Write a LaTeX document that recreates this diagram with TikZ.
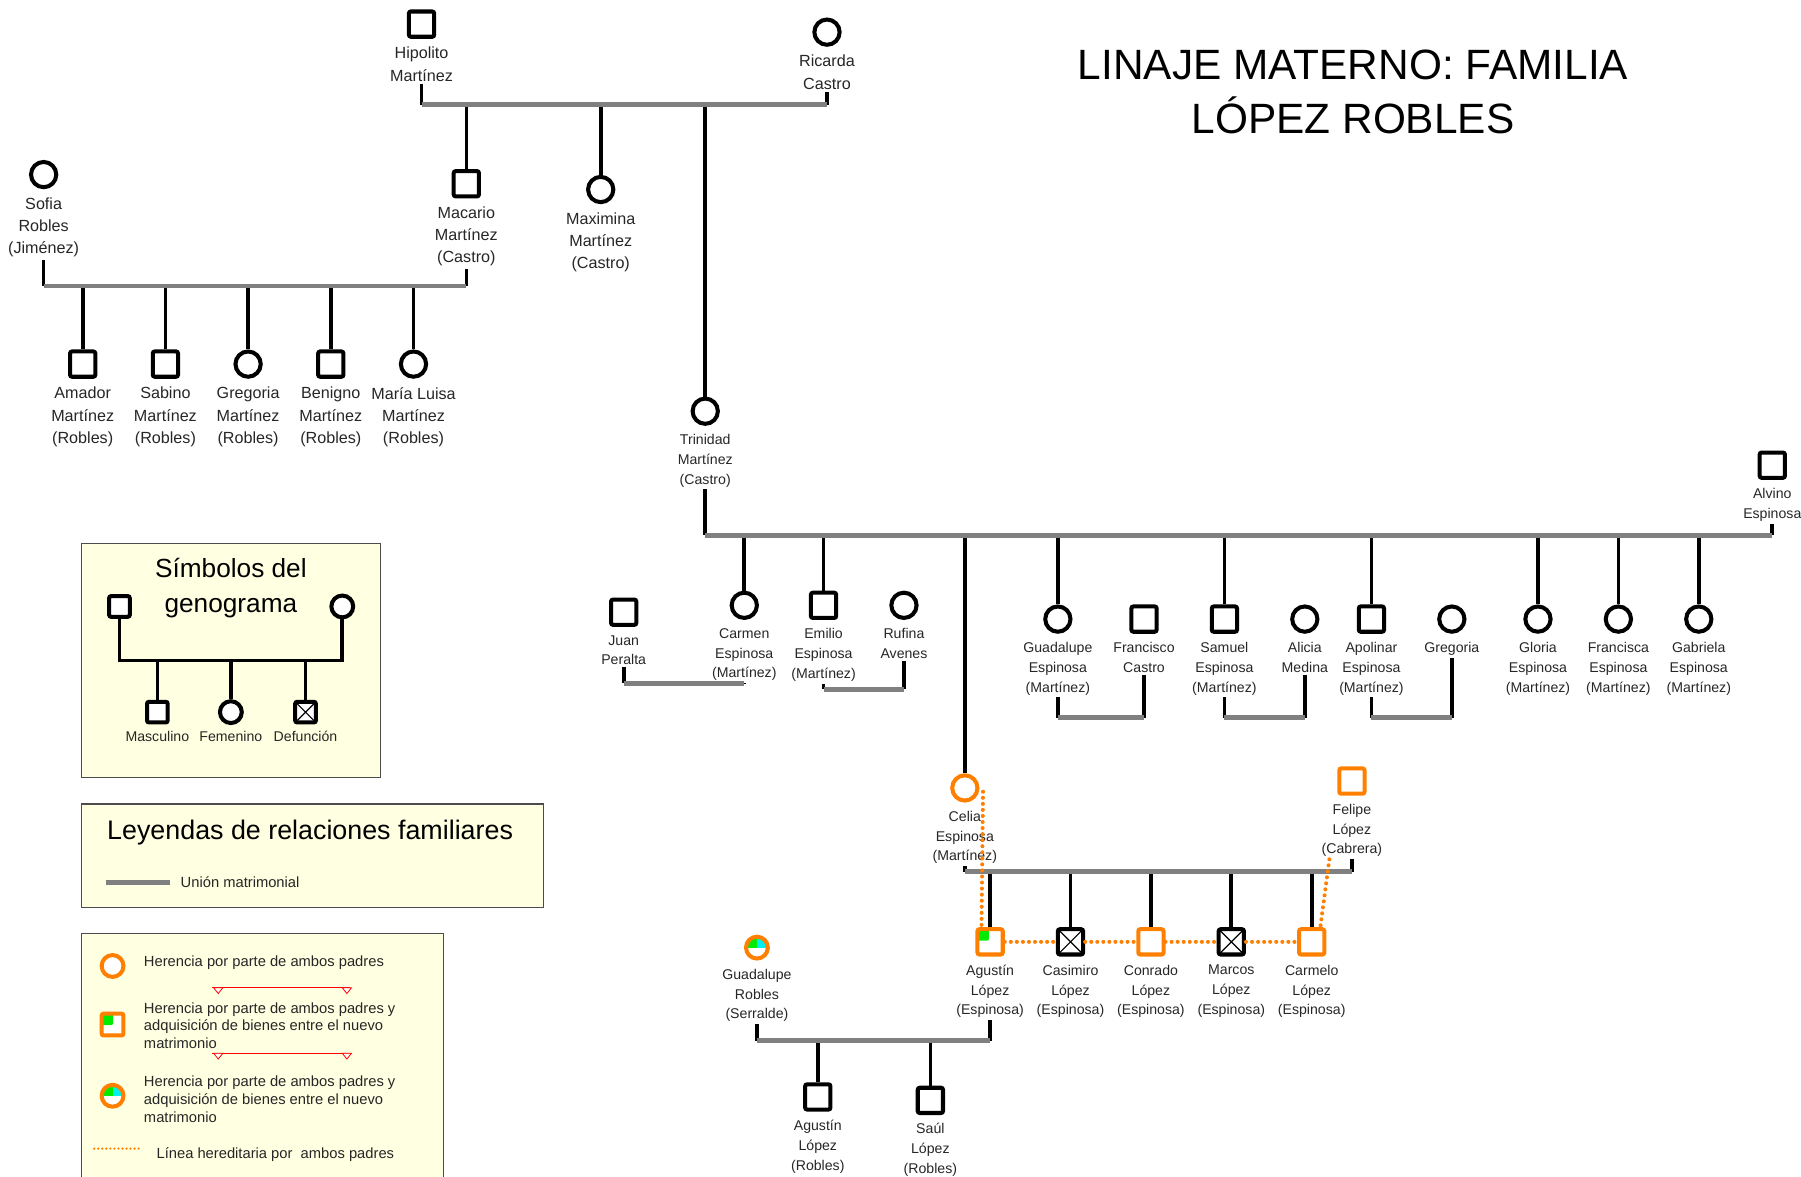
\documentclass[tikz,border=0pt]{standalone}
\usepackage{fontspec}
\setmainfont{Liberation Sans}
\usetikzlibrary{positioning}
\definecolor{herencia}{RGB}{255,128,0}
\definecolor{bienes}{RGB}{0,235,0}
\definecolor{bienesb}{RGB}{0,240,240}
\definecolor{papel}{RGB}{255,255,225}
\definecolor{uniongris}{RGB}{128,128,128}
\tikzset{
	male/.style={draw, line width=2pt, rounded corners=1pt, minimum size=0.44cm, inner sep=0pt, fill=white},
	female/.style={draw, circle, line width=2pt, minimum size=0.44cm, inner sep=0pt, fill=white},
	dead/.style={male, path picture={\draw[line width=0.6pt] (path picture bounding box.north west) -- (path picture bounding box.south east) (path picture bounding box.north east) -- (path picture bounding box.south west);}},
	hered/.style={draw=herencia},
	bienesq/.style={path picture={\fill[bienes] (path picture bounding box.north west) rectangle ++(0.2cm,-0.2cm);}},
	bienesc/.style={path picture={\fill[bienes] (path picture bounding box.center) rectangle (path picture bounding box.north west); \fill[bienesb] (path picture bounding box.center) rectangle (path picture bounding box.north east);}},
	lbl/.style={align=center, font=\fontsize{8}{11}\selectfont, inner sep=1pt, text=black!85},
	lbls/.style={lbl, font=\fontsize{7}{9.8}\selectfont},
	desc/.style={line width=1.8pt},
	union/.style={draw=uniongris, line width=2.4pt},
	linea/.style={draw=herencia, line width=2pt, line cap=round, dash pattern=on 0pt off 3pt},
	caja/.style={draw=black!70, fill=papel, line width=0.6pt},
	leyenda/.style={font=\fontsize{7.3}{8.8}\selectfont, align=left, anchor=west, inner sep=0pt, text=black!85}
}
\begin{document}
\begin{tikzpicture}[x=0.02cm, y=-0.02cm]
	\useasboundingbox (0,0) rectangle (1568,1024);
	\node[font=\fontsize{21}{27}\selectfont, align=center] (titulo) at (1178,80) {LINAJE MATERNO: FAMILIA\\LÓPEZ ROBLES};

	\coordinate (u1) at (0,91);
	\node[male] (hip) at (367,21) {};
	\node[lbl, below=3pt of hip] (hip-t) {Hipolito\\Martínez};
	\node[female] (ric) at (720,28) {};
	\node[lbl, below=3pt of ric] (ric-t) {Ricarda\\Castro};
	\node[male] (mac) at (406,160) {};
	\node[lbl, below=3pt of mac] (mac-t) {Macario\\Martínez\\(Castro)};
	\node[female] (maxi) at (523,165) {};
	\node[lbl, below=3pt of maxi] (maxi-t) {Maximina\\Martínez\\(Castro)};
	\node[female] (tri) at (614,358) {};
	\node[lbls, below=3pt of tri] (tri-t) {Trinidad\\Martínez\\(Castro)};
	\draw[desc] (hip-t) -- (hip-t |- u1);
	\draw[desc] (ric-t) -- (ric-t |- u1);
	\foreach \n in {mac,maxi,tri} \draw[desc] (\n |- u1) -- (\n);
	\draw[union] (hip-t |- u1) -- (ric-t |- u1);

	\coordinate (u2) at (0,249);
	\node[female] (sof) at (38,152) {};
	\node[lbl, below=3pt of sof] (sof-t) {Sofia\\Robles\\(Jiménez)};
	\draw[desc] (sof-t) -- (sof-t |- u2);
	\draw[desc] (mac-t) -- (mac-t |- u2);
	\foreach \x/\s/\n/\nom in {72/male/ama/Amador, 144/male/sab/Sabino, 216/female/gre/Gregoria, 288/male/ben/Benigno, 360/female/mlu/María Luisa}{
		\node[\s] (\n) at (\x,317) {};
		\node[lbl, below=3pt of \n] (\n-t) {\nom\\Martínez\\(Robles)};
		\draw[desc] (\n |- u2) -- (\n);
	}
	\draw[union] (sof-t |- u2) -- (mac-t |- u2);

	\coordinate (u3) at (0,466);
	\node[male] (alv) at (1543,405) {};
	\node[lbls, below=3pt of alv] (alv-t) {Alvino\\Espinosa};
	\draw[desc] (tri-t) -- (tri-t |- u3);
	\draw[desc] (alv-t) -- (alv-t |- u3);
	\node[female] (car) at (648,527) {};
	\node[lbls, below=3pt of car] (car-t) {Carmen\\Espinosa\\(Martínez)};
	\node[male] (emi) at (717,527) {};
	\node[lbls, below=3pt of emi] (emi-t) {Emilio\\Espinosa\\(Martínez)};
	\node[female, hered] (cel) at (840,686) {};
	\node[lbls, below=3pt of cel] (cel-t) {Celia\\Espinosa\\(Martínez)};
	\foreach \x/\s/\n/\nom in {921/female/gua/Guadalupe, 1066/male/sam/Samuel, 1194/male/apo/Apolinar, 1339/female/glo/Gloria, 1409/female/fra/Francisca, 1479/female/gab/Gabriela}{
		\node[\s] (\n) at (\x,539) {};
		\node[lbls, below=3pt of \n] (\n-t) {\nom\\Espinosa\\(Martínez)};
	}
	\foreach \n in {car,emi,cel,gua,sam,apo,glo,fra,gab} \draw[desc] (\n |- u3) -- (\n);
	\draw[union] (tri-t |- u3) -- (alv-t |- u3);

	\node[male] (jua) at (543,533) {};
	\node[lbls, below=3pt of jua] (jua-t) {Juan\\Peralta};
	\node[female] (ruf) at (787,527) {};
	\node[lbls, below=3pt of ruf] (ruf-t) {Rufina\\Avenes};
	\node[male] (fco) at (996,539) {};
	\node[lbls, below=3pt of fco] (fco-t) {Francisco\\Castro};
	\node[female] (ali) at (1136,539) {};
	\node[lbls, below=3pt of ali] (ali-t) {Alicia\\Medina};
	\node[female] (gre2) at (1264,539) {};
	\node[lbls, below=3pt of gre2] (gre2-t) {Gregoria};
	\foreach \a/\b/\y in {jua/car/595, emi/ruf/600, gua/fco/625, sam/ali/625, apo/gre2/625}{
		\coordinate (m) at (0,\y);
		\draw[desc] (\a-t) -- (\a-t |- m);
		\draw[desc] (\b-t) -- (\b-t |- m);
		\draw[union] (\a-t |- m) -- (\b-t |- m);
	}

	\coordinate (u4) at (0,759);
	\node[male, hered] (fel) at (1177,680) {};
	\node[lbls, below=3pt of fel] (fel-t) {Felipe\\López\\(Cabrera)};
	\draw[desc] (cel-t) -- (cel-t |- u4);
	\draw[desc] (fel-t) -- (fel-t |- u4);
	\node[male, hered, bienesq] (agu) at (862,820) {};
	\node[dead] (cas) at (932,820) {};
	\node[male, hered] (con) at (1002,820) {};
	\node[dead] (mar) at (1072,820) {};
	\node[male, hered] (cml) at (1142,820) {};
	\foreach \n/\nom in {agu/Agustín, cas/Casimiro, con/Conrado, mar/Marcos, cml/Carmelo}{
		\node[lbls, below=3pt of \n] (\n-t) {\nom\\López\\(Espinosa)};
		\draw[desc] (\n |- u4) -- (\n);
	}
	\draw[union] (cel-t |- u4) -- (fel-t |- u4);
	\draw[linea] (agu) -- (cas) (cas) -- (con) (con) -- (mar) (mar) -- (cml);
	\draw[linea] ([xshift=2pt]cel.-15) -- ([xshift=3pt]agu.north west);
	\draw[linea] ([xshift=5pt]fel-t.south west) -- ([xshift=-3pt]cml.north east);

	\coordinate (u5) at (0,906);
	\node[female, hered, bienesc, minimum size=0.38cm] (gur) at (659,825) {};
	\node[lbls, below=3pt of gur] (gur-t) {Guadalupe\\Robles\\(Serralde)};
	\draw[desc] (gur-t) -- (gur-t |- u5);
	\draw[desc] (agu-t) -- (agu-t |- u5);
	\node[male] (agr) at (712,955) {};
	\node[lbls, below=3pt of agr] (agr-t) {Agustín\\López\\(Robles)};
	\node[male] (sau) at (810,958) {};
	\node[lbls, below=3pt of sau] (sau-t) {Saúl\\López\\(Robles)};
	\foreach \n in {agr,sau} \draw[desc] (\n |- u5) -- (\n);
	\draw[union] (gur-t |- u5) -- (agu-t |- u5);

	\draw[caja] (71,473) rectangle (331,677);
	\node[font=\fontsize{13}{17}\selectfont, align=center] (simb) at (201,512) {Símbolos del\\genograma};
	\coordinate (lu) at (0,575);
	\node[male, minimum size=0.36cm] (lp) at (104,528) {};
	\node[female, minimum size=0.38cm] (lm) at (298,528) {};
	\draw[desc] (lp) -- (lp |- lu) -- (lm |- lu) -- (lm);
	\node[male, minimum size=0.36cm] (lh1) at (137,620) {};
	\node[female, minimum size=0.38cm] (lh2) at (201,620) {};
	\node[dead, minimum size=0.36cm] (lh3) at (266,620) {};
	\foreach \n/\nom in {lh1/Masculino, lh2/Femenino, lh3/Defunción}{
		\draw[desc] (\n |- lu) -- (\n);
		\node[lbls, below=2pt of \n] (\n-t) {\nom};
	}

	\draw[caja] (71,700) rectangle (473,790);
	\node[font=\fontsize{13.3}{16}\selectfont, anchor=west, inner sep=0pt] (ley) at (93,725) {Leyendas de relaciones familiares};
	\coordinate (lu1) at (92,768);
	\coordinate (lu2) at (148,768);
	\draw[union] (lu1) -- (lu2);
	\node[leyenda] (ley1) at (157,768) {Unión matrimonial};

	\draw[caja] (71,813) rectangle (386,1040);
	\node[female, hered, minimum size=0.38cm] (lc1) at (98,841) {};
	\node[leyenda] (lc1-t) at (125,838) {Herencia por parte de ambos padres};
	\node[male, hered, bienesq, minimum size=0.38cm] (lc2) at (98,892) {};
	\node[leyenda] (lc2-t) at (125,893) {Herencia por parte de ambos padres y\\adquisición de bienes entre el nuevo\\matrimonio};
	\node[female, hered, bienesc, minimum size=0.38cm] (lc3) at (98,954) {};
	\node[leyenda] (lc3-t) at (125,957) {Herencia por parte de ambos padres y\\adquisición de bienes entre el nuevo\\matrimonio};
	\foreach \y in {860,917}{
		\draw[red, line width=0.5pt] (185,\y) -- (305,\y);
		\draw[red, line width=0.4pt, fill=white] (186,\y) -- (194,\y) -- (190,\y+5) -- cycle;
		\draw[red, line width=0.4pt, fill=white] (298,\y) -- (306,\y) -- (302,\y+5) -- cycle;
	}
	\coordinate (ld1) at (82,1000);
	\coordinate (ld2) at (122,1000);
	\draw[linea, line width=1.2pt, dash pattern=on 0pt off 2pt] (ld1) -- (ld2);
	\node[leyenda] (lc4-t) at (136,1005) {Línea hereditaria por\ \ ambos padres};
\end{tikzpicture}
\end{document}
